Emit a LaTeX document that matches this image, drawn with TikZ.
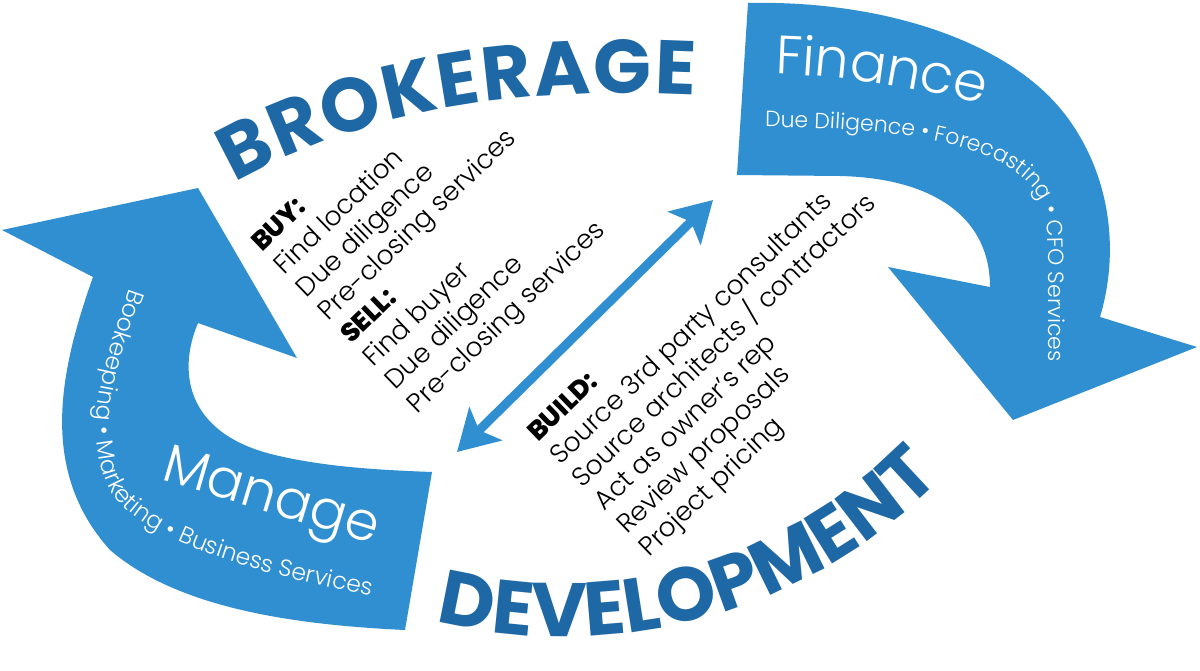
\documentclass[tikz,border=0pt]{standalone}
\usepackage{fontspec}
\setmainfont{Poppins}
\IfFontExistsTF{Poppins Light}{\newfontfamily\lightf{Poppins Light}}{\newfontfamily\lightf{Poppins}}
\IfFontExistsTF{Poppins ExtraBold}{\newfontfamily\heavyf{Poppins ExtraBold}}{\newfontfamily\heavyf{Poppins Bold}}
\newfontfamily\titlef{Poppins Bold}
\usetikzlibrary{arrows.meta,decorations.text}
\definecolor{band}{RGB}{47,143,208}
\definecolor{tblue}{RGB}{31,104,166}
\newcommand\ttlfont{\titlef\fontsize{76}{76}\selectfont}
\newcommand\bigwfont{\lightf\fontsize{54}{54}\selectfont}
\newcommand\subwfont{\lightf\fontsize{22}{22}\selectfont}
\newcommand\subwfontb{\lightf\fontsize{23.5}{23.5}\selectfont}
\begin{document}
\begin{tikzpicture}[x=1pt,y=-1pt,
  blk/.style={anchor=base west, inner sep=0pt, text=black, font=\lightf\fontsize{26.5}{26.5}\selectfont},
  blkhead/.style={blk, font=\heavyf\fontsize{26.5}{26.5}\selectfont},
  tipA/.tip={Stealth[length=40pt,width=46pt,inset=9pt]}]
\fill[white] (0,0) rectangle (1200,670);
\useasboundingbox (0,0) rectangle (1200,670);

% Manage band (left)
\fill[band] (2,230) -- (198,188) -- (297,358) -- (198,323)
  .. controls (178,370) and (185,430) .. (267,453)
  .. controls (320,467) and (380,470) .. (432,472)
  -- (405,630)
  .. controls (300,625) and (180,610) .. (110,550)
  .. controls (38,470) and (60,370) .. (93,277) -- cycle;

% Finance band (right)
\fill[band] (748,3) .. controls (880,0) and (1010,40) .. (1067,117)
  .. controls (1110,175) and (1120,250) .. (1100,317)
  -- (1197,347) -- (1013,420) -- (888,267) -- (990,287)
  .. controls (990,215) and (930,178) .. (840,176)
  -- (737,175) -- cycle;

% double arrow
\coordinate (dA) at (457,452);
\coordinate (dB) at (713,200);
\draw[band, line width=9pt, tipA-tipA] (dA) -- (dB);

% titles
\path[decorate, decoration={text along path, text={|\ttlfont|BROKERAGE},
  text color=tblue, text align={fit to path}}]
  (235,183) .. controls (374,104) and (535,87) .. (695,95);
\path[decorate, decoration={text along path, text={|\ttlfont|DEVELOPMENT},
  text color=tblue, text align={fit to path}}]
  (436,621) .. controls (595,662) and (790,625) .. (932,488);

% band labels
\path[decorate, decoration={text along path, text={|\bigwfont|Finance},
  text color=white}]
  (775,74) .. controls (850,76) and (920,88) .. (1010,111);
\path[decorate, decoration={text along path, text={|\subwfont|Due Diligence • Forecasting • CFO Services},
  text color=white}]
  (765,127) .. controls (890,128) and (990,140) .. (1030,185)
  .. controls (1045,200) and (1048,220) .. (1048,250) -- (1048,420);
\path[decorate, decoration={text along path, text={|\bigwfont|Manage},
  text color=white}]
  (160,480) .. controls (230,500) and (320,528) .. (420,558);
\path[decorate, decoration={text along path, text={|\subwfontb|Bookeeping • Marketing • Business Services},
  text color=white}]
  (130,288) .. controls (105,360) and (80,430) .. (110,490)
  .. controls (140,540) and (250,575) .. (420,605);

% BUY / SELL block
\begin{scope}[shift={(262,253)}, rotate=44, transform shape]
  \node[blkhead] (buy) at (0,0) {BUY:};
  \node[blk] (b1) at (0,32) {Find location};
  \node[blk] (b2) at (0,64) {Due diligence};
  \node[blk] (b3) at (0,96) {Pre-closing services};
  \node[blkhead] (sell) at (0,128) {SELL:};
  \node[blk] (s1) at (0,160) {Find buyer};
  \node[blk] (s2) at (0,192) {Due diligence};
  \node[blk] (s3) at (0,224) {Pre-closing services};
\end{scope}

% BUILD block
\begin{scope}[shift={(538,443)}, rotate=44, transform shape]
  \node[blkhead] (build) at (0,0) {BUILD:};
  \node[blk] (u1) at (0,32) {Source 3rd party consultants};
  \node[blk] (u2) at (0,64) {Source architects / contractors};
  \node[blk] (u3) at (0,96) {Act as owner’s rep};
  \node[blk] (u4) at (0,128) {Review proposals};
  \node[blk] (u5) at (0,160) {Project pricing};
\end{scope}
\end{tikzpicture}
\end{document}
